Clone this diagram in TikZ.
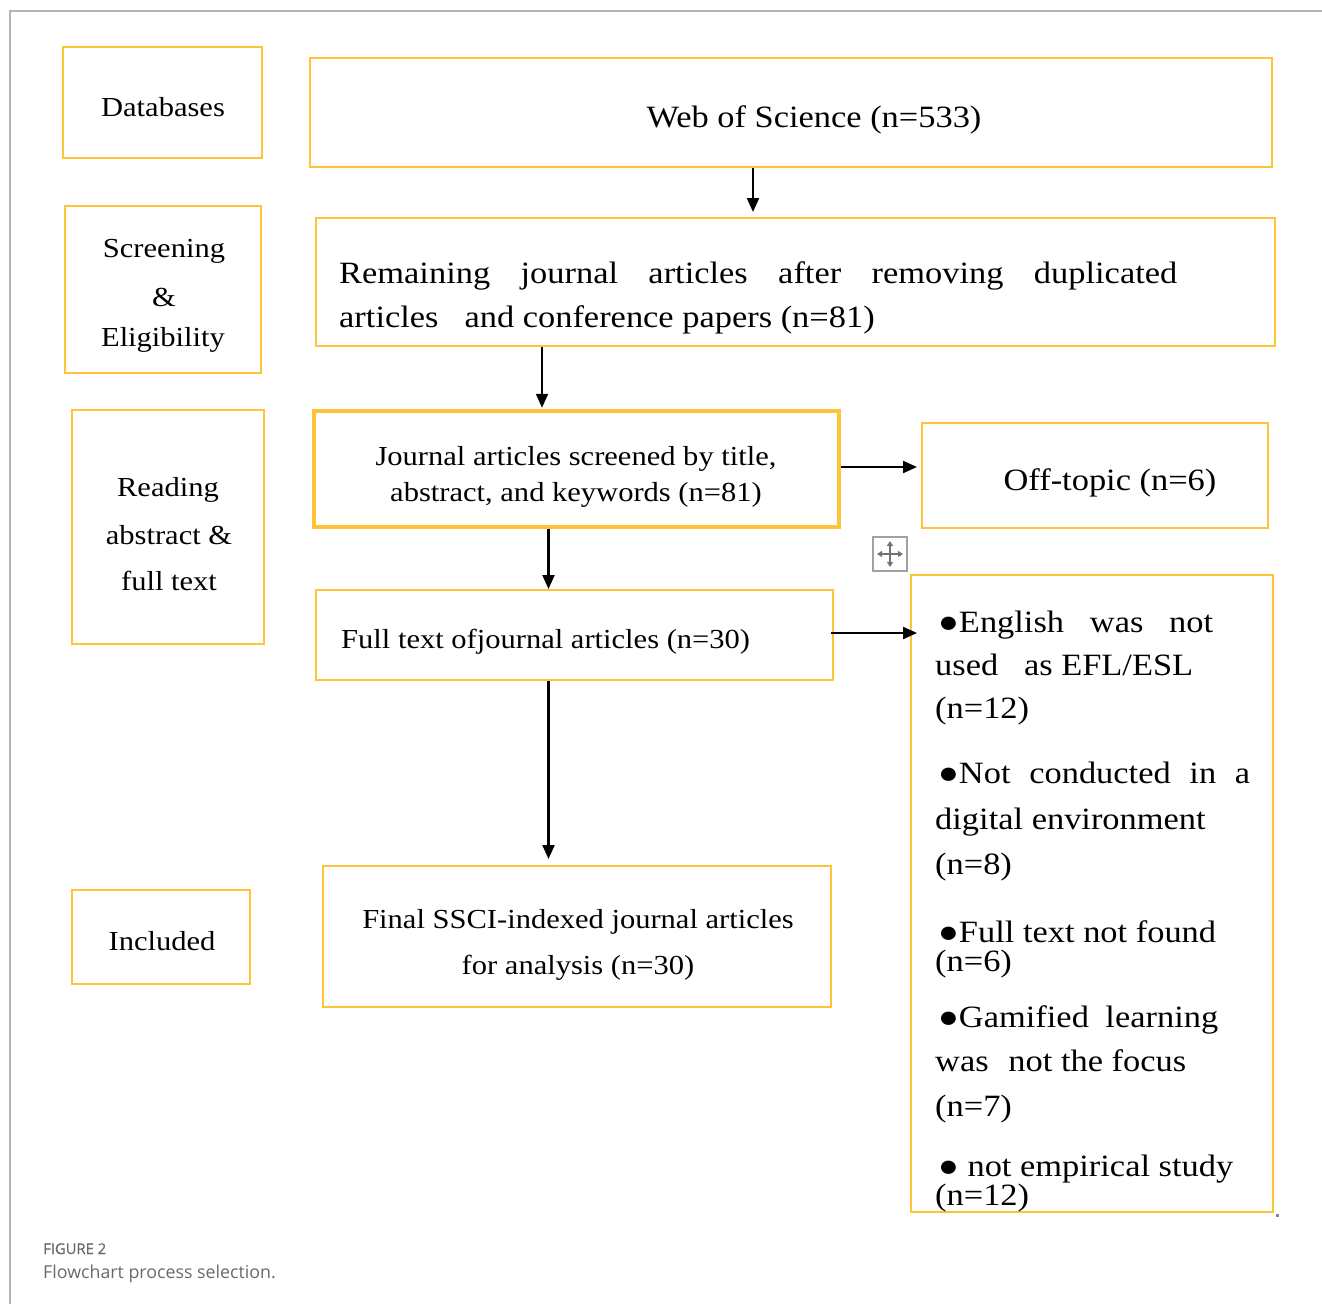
\documentclass[tikz,border=0pt]{standalone}
\usepackage{fontspec}
\setmainfont[FakeStretch=1.11]{Liberation Serif}
\newfontfamily\capfont{Open Sans}
\newfontfamily\capfontb[FakeBold=0.6]{Open Sans}
\usetikzlibrary{arrows.meta}
\definecolor{gold}{HTML}{FCC436}
\definecolor{framegray}{HTML}{B4B4B4}
\definecolor{capgray}{HTML}{6A6A6A}
\definecolor{icongray}{HTML}{8A8A8A}
\begin{document}
\begin{tikzpicture}[x=1pt,y=-1pt,
  box/.style={draw=gold, line width=2pt, inner sep=0pt, fill=none},
  thickbox/.style={box, line width=3.5pt},
  tbig/.style={inner sep=0pt, anchor=base, font=\fontsize{31}{37}\selectfont},
  tsmall/.style={inner sep=0pt, anchor=base, font=\fontsize{27.5}{33}\selectfont},
  tleft/.style={tbig, anchor=base west},
  arr/.style={line width=2.2pt, -{Triangle[length=14pt,width=12pt]}}
]
\useasboundingbox (0,0) rectangle (1322,1304);
\fill[white] (0,0) rectangle (1322,1304);
% frame
\draw[framegray, line width=1.6pt] (10,1304) -- (10,11) -- (1322,11);

% boxes
\node[box, minimum width=199pt, minimum height=111pt] (db) at (162.5,102.5) {};
\node[box, minimum width=962pt, minimum height=109pt] (web) at (791,112.5) {};
\node[box, minimum width=196pt, minimum height=167pt] (scr) at (163,289.5) {};
\node[box, minimum width=959pt, minimum height=128pt] (rem) at (795.5,282) {};
\node[box, minimum width=192pt, minimum height=234pt] (read) at (168,527) {};
\node[thickbox, minimum width=525pt, minimum height=116pt] (jas) at (576.5,469) {};
\node[box, minimum width=346pt, minimum height=105pt] (off) at (1095,475.5) {};
\node[box, minimum width=517pt, minimum height=90pt] (full) at (574.5,635) {};
\node[box, minimum width=362pt, minimum height=637pt] (excl) at (1092,893.5) {};
\node[box, minimum width=178pt, minimum height=94pt] (inc) at (161,937) {};
\node[box, minimum width=508pt, minimum height=141pt] (fin) at (577,936.5) {};

% left texts
\node[tsmall] (tdb) at (163,116) {Databases};
\node[tsmall] (tscr1) at (164,257) {Screening};
\node[tsmall] (tscr2) at (164,306) {\&};
\node[tsmall] (tscr3) at (163,346) {Eligibility};
\node[tsmall] (tread1) at (168,496) {Reading};
\node[tsmall] (tread2) at (169,544) {abstract \&};
\node[tsmall] (tread3) at (169,590) {full text};
\node[tsmall] (tinc) at (162,950) {Included};

% main texts
\node[tbig] (tweb) at (814,127) {Web of Science (n=533)};
\node[tleft] (trem1) at (339,283) {\makebox[838pt][s]{Remaining journal articles after removing duplicated}};
\node[tleft] (trem2) at (339,327) {articles\hspace{26pt}and conference papers (n=81)};
\node[tsmall] (tjas1) at (576,465) {Journal articles screened by title,};
\node[tsmall] (tjas2) at (576,501) {abstract, and keywords (n=81)};
\node[tbig] (toff) at (1110,490) {Off-topic (n=6)};
\node[tsmall, anchor=base west] (tfull) at (341,648) {Full text ofjournal articles (n=30)};
\node[tsmall] (tfin1) at (578,928) {Final SSCI-indexed journal articles};
\node[tsmall] (tfin2) at (578,974) {for analysis (n=30)};

% exclusion list
\node[tleft] (e1) at (938,632) {\makebox[275pt][s]{●English was not}};
\node[tleft] (e2) at (935,675) {\makebox[258pt][s]{used\hfill\ as EFL/ESL}};
\node[tleft] (e3) at (935,718) {(n=12)};
\node[tleft] (e4) at (938,783) {\makebox[312pt][s]{●Not conducted in a}};
\node[tleft] (e5) at (935,829) {digital environment};
\node[tleft] (e6) at (935,874) {(n=8)};
\node[tleft] (e7) at (938,942) {●Full text not found};
\node[tleft] (e8) at (935,971) {(n=6)};
\node[tleft] (e9) at (938,1027) {\makebox[280pt][s]{●Gamified learning}};
\node[tleft] (e10) at (935,1071) {\makebox[251pt][s]{was\hfill\ not the focus}};
\node[tleft] (e11) at (935,1116) {(n=7)};
\node[tleft] (e12) at (938,1176) {● not empirical study};
\node[tleft] (e13) at (935,1205) {(n=12)};

% connectors
\coordinate (xA1) at (753,0);
\coordinate (xA2) at (542,0);
\coordinate (yA3) at (0,467);
\coordinate (xA4) at (548.5,0);
\coordinate (yA5) at (0,633);
\draw[arr, shorten >=5pt] (web.south -| xA1) -- (rem.north -| xA1);
\draw[arr, shorten >=1.5pt] (rem.south -| xA2) -- (jas.north -| xA2);
\draw[arr, shorten >=4pt] (jas.east |- yA3) -- (off.west |- yA3);
\draw[arr, shorten >=0pt] (jas.south -| xA4) -- (full.north -| xA4);
\draw[arr, shorten <=-3pt, shorten >=-7pt] (full.east |- yA5) -- (excl.west |- yA5);
\draw[arr, shorten >=6pt] (full.south -| xA4) -- (fin.north -| xA4);

% move handle icon
\draw[icongray!80, line width=2pt, fill=white] (873,537) rectangle (907,571);
\draw[icongray!120, line width=2pt, {Triangle[length=5pt,width=6pt]}-{Triangle[length=5pt,width=6pt]}] (877,554) -- (903,554);
\draw[icongray!120, line width=2pt, {Triangle[length=5pt,width=6pt]}-{Triangle[length=5pt,width=6pt]}] (890,541) -- (890,567);
% small corner mark
\fill[icongray] (1275.5,1213.5) rectangle (1279,1217);

% caption
\node[inner sep=0pt, anchor=base west, text=capgray, font=\capfontb\fontsize{14.8}{16}\selectfont] (cap1) at (43,1254) {FIGURE 2};
\node[inner sep=0pt, anchor=base west, text=capgray, font=\capfont\fontsize{17.8}{22}\selectfont] (cap2) at (43,1278) {Flowchart process selection.};
\end{tikzpicture}
\end{document}
